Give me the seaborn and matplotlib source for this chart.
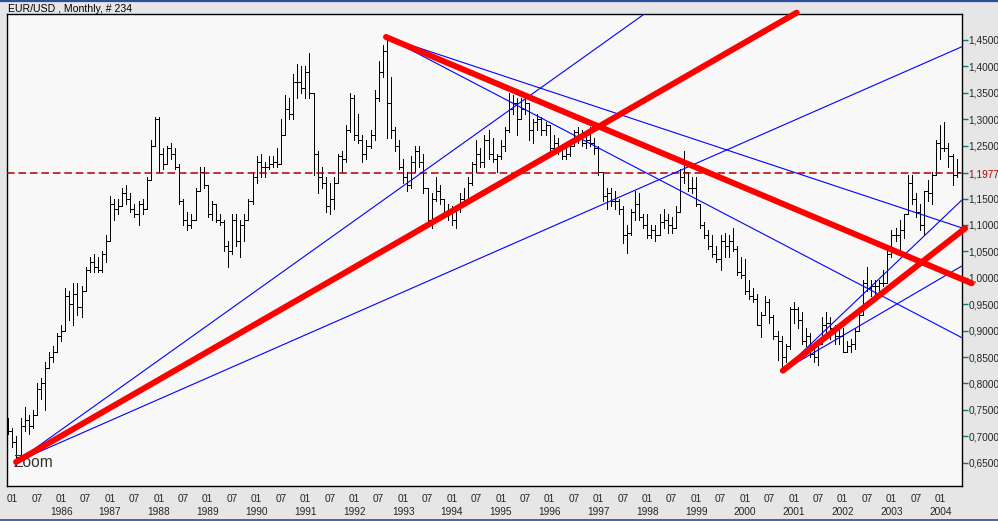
import numpy as np
import pandas as pd
import matplotlib
matplotlib.use("Agg")
import matplotlib.pyplot as plt
import seaborn as sns

# EUR/USD monthly bars, Dec 1984 .. May 2004 (234 bars)
first_month = "1984-12-01"

opens = [0.73, 0.71, 0.69, 0.66, 0.72, 0.73, 0.72, 0.74, 0.79, 0.80, 0.83, 0.85,
         0.86, 0.89, 0.90, 0.965, 0.95, 0.97, 0.945, 0.975, 1.015, 1.03, 1.02, 1.015,
         1.045, 1.07, 1.14, 1.13, 1.135, 1.16, 1.15, 1.13, 1.12, 1.14, 1.13, 1.185,
         1.25, 1.30, 1.235, 1.215, 1.245, 1.235, 1.21, 1.145, 1.11, 1.10, 1.11, 1.165,
         1.20, 1.175, 1.12, 1.14, 1.11, 1.105, 1.06, 1.05, 1.11, 1.07, 1.10, 1.11,
         1.145, 1.19, 1.22, 1.21, 1.21, 1.215, 1.22, 1.215, 1.27, 1.32, 1.31, 1.37,
         1.37, 1.36, 1.39, 1.35, 1.235, 1.19, 1.18, 1.135, 1.15, 1.18, 1.23, 1.225,
         1.28, 1.34, 1.27, 1.26, 1.235, 1.25, 1.27, 1.34, 1.39, 1.43, 1.33, 1.28,
         1.25, 1.21, 1.19, 1.175, 1.22, 1.24, 1.22, 1.17, 1.11, 1.15, 1.165, 1.15,
         1.125, 1.125, 1.11, 1.13, 1.15, 1.145, 1.18, 1.215, 1.235, 1.22, 1.26, 1.235,
         1.225, 1.23, 1.25, 1.28, 1.32, 1.33, 1.30, 1.32, 1.33, 1.28, 1.295, 1.30,
         1.28, 1.29, 1.245, 1.255, 1.245, 1.23, 1.235, 1.25, 1.275, 1.27, 1.255, 1.26,
         1.255, 1.245, 1.20, 1.155, 1.16, 1.145, 1.145, 1.13, 1.08, 1.085, 1.125, 1.14,
         1.115, 1.10, 1.08, 1.09, 1.08, 1.105, 1.11, 1.10, 1.095, 1.125, 1.19, 1.20,
         1.17, 1.17, 1.14, 1.10, 1.08, 1.06, 1.045, 1.035, 1.07, 1.06, 1.07, 1.055,
         1.01, 1.005, 0.975, 0.965, 0.96, 0.91, 0.93, 0.955, 0.925, 0.89, 0.88, 0.85,
         0.87, 0.94, 0.94, 0.92, 0.88, 0.89, 0.855, 0.85, 0.875, 0.91, 0.915, 0.905,
         0.89, 0.89, 0.86, 0.87, 0.875, 0.90, 0.93, 0.99, 0.98, 0.985, 0.985, 0.99,
         0.99, 1.045, 1.08, 1.08, 1.09, 1.12, 1.18, 1.15, 1.125, 1.10, 1.165, 1.16,
         1.195, 1.255, 1.245, 1.245, 1.23, 1.195]
highs = [0.735, 0.715, 0.70, 0.735, 0.755, 0.74, 0.75, 0.80, 0.81, 0.84, 0.86, 0.87,
         0.895, 0.91, 0.98, 0.975, 0.99, 0.99, 0.985, 1.02, 1.04, 1.045, 1.04, 1.05,
         1.08, 1.155, 1.15, 1.15, 1.17, 1.175, 1.16, 1.14, 1.145, 1.15, 1.19, 1.26,
         1.305, 1.305, 1.245, 1.25, 1.255, 1.245, 1.215, 1.15, 1.125, 1.12, 1.17, 1.21,
         1.21, 1.175, 1.145, 1.14, 1.12, 1.11, 1.07, 1.12, 1.12, 1.11, 1.12, 1.15,
         1.20, 1.23, 1.235, 1.22, 1.23, 1.23, 1.245, 1.30, 1.345, 1.34, 1.385, 1.405,
         1.40, 1.40, 1.425, 1.35, 1.24, 1.21, 1.19, 1.18, 1.19, 1.235, 1.24, 1.29,
         1.35, 1.345, 1.31, 1.27, 1.26, 1.28, 1.355, 1.41, 1.44, 1.456, 1.38, 1.285,
         1.26, 1.225, 1.20, 1.23, 1.25, 1.25, 1.235, 1.17, 1.16, 1.19, 1.175, 1.15,
         1.14, 1.135, 1.135, 1.16, 1.17, 1.19, 1.22, 1.26, 1.245, 1.27, 1.28, 1.265,
         1.235, 1.26, 1.285, 1.35, 1.345, 1.34, 1.34, 1.35, 1.33, 1.30, 1.31, 1.305,
         1.295, 1.29, 1.27, 1.265, 1.25, 1.245, 1.26, 1.28, 1.285, 1.28, 1.27, 1.285,
         1.265, 1.25, 1.20, 1.17, 1.17, 1.165, 1.15, 1.135, 1.10, 1.13, 1.165, 1.16,
         1.12, 1.12, 1.10, 1.10, 1.12, 1.13, 1.12, 1.115, 1.135, 1.205, 1.24, 1.20,
         1.19, 1.19, 1.14, 1.105, 1.09, 1.08, 1.06, 1.08, 1.085, 1.08, 1.095, 1.06,
         1.04, 1.035, 0.995, 0.98, 0.97, 0.935, 0.965, 0.96, 0.93, 0.90, 0.89, 0.875,
         0.945, 0.955, 0.945, 0.935, 0.905, 0.895, 0.875, 0.88, 0.925, 0.935, 0.925, 0.91,
         0.905, 0.905, 0.88, 0.885, 0.905, 0.935, 0.995, 1.02, 0.995, 0.995, 0.995, 1.015,
         1.05, 1.09, 1.095, 1.11, 1.12, 1.195, 1.195, 1.16, 1.14, 1.165, 1.185, 1.20,
         1.26, 1.29, 1.295, 1.255, 1.235, 1.225]
lows = [0.705, 0.68, 0.645, 0.655, 0.71, 0.705, 0.715, 0.74, 0.77, 0.75, 0.83, 0.84,
        0.86, 0.88, 0.90, 0.92, 0.91, 0.93, 0.925, 0.975, 1.01, 1.01, 1.01, 1.01,
        1.03, 1.07, 1.11, 1.12, 1.135, 1.14, 1.125, 1.115, 1.10, 1.12, 1.13, 1.185,
        1.25, 1.20, 1.205, 1.215, 1.225, 1.205, 1.14, 1.10, 1.09, 1.095, 1.11, 1.165,
        1.17, 1.115, 1.11, 1.105, 1.10, 1.05, 1.02, 1.045, 1.06, 1.04, 1.07, 1.11,
        1.14, 1.18, 1.19, 1.19, 1.205, 1.21, 1.21, 1.215, 1.27, 1.30, 1.30, 1.34,
        1.35, 1.34, 1.34, 1.195, 1.16, 1.17, 1.125, 1.12, 1.13, 1.18, 1.20, 1.22,
        1.275, 1.26, 1.255, 1.22, 1.225, 1.245, 1.26, 1.335, 1.38, 1.265, 1.265, 1.24,
        1.205, 1.18, 1.165, 1.17, 1.20, 1.21, 1.16, 1.10, 1.095, 1.145, 1.14, 1.115,
        1.11, 1.10, 1.095, 1.125, 1.135, 1.14, 1.175, 1.20, 1.21, 1.21, 1.225, 1.22,
        1.20, 1.225, 1.24, 1.275, 1.31, 1.27, 1.30, 1.31, 1.26, 1.255, 1.28, 1.27,
        1.27, 1.24, 1.24, 1.235, 1.225, 1.225, 1.23, 1.25, 1.255, 1.25, 1.245, 1.25,
        1.235, 1.195, 1.145, 1.13, 1.135, 1.13, 1.12, 1.065, 1.047, 1.08, 1.11, 1.11,
        1.095, 1.076, 1.075, 1.07, 1.08, 1.095, 1.085, 1.085, 1.095, 1.125, 1.18, 1.165,
        1.16, 1.135, 1.095, 1.075, 1.055, 1.04, 1.03, 1.015, 1.04, 1.04, 1.05, 1.005,
        1.00, 0.97, 0.96, 0.955, 0.91, 0.888, 0.93, 0.915, 0.885, 0.845, 0.825, 0.84,
        0.865, 0.915, 0.905, 0.875, 0.87, 0.85, 0.84, 0.835, 0.875, 0.895, 0.885, 0.875,
        0.875, 0.86, 0.86, 0.86, 0.865, 0.90, 0.93, 0.975, 0.965, 0.965, 0.97, 0.985,
        0.99, 1.04, 1.07, 1.05, 1.075, 1.12, 1.14, 1.115, 1.09, 1.08, 1.145, 1.14,
        1.195, 1.225, 1.24, 1.21, 1.176, 1.19]
closes = [0.71, 0.69, 0.66, 0.72, 0.73, 0.72, 0.74, 0.79, 0.80, 0.83, 0.85, 0.86,
          0.89, 0.90, 0.965, 0.95, 0.97, 0.945, 0.975, 1.015, 1.03, 1.02, 1.015, 1.045,
          1.07, 1.14, 1.13, 1.135, 1.16, 1.15, 1.13, 1.12, 1.14, 1.13, 1.185, 1.25,
          1.30, 1.235, 1.215, 1.245, 1.235, 1.21, 1.145, 1.11, 1.10, 1.11, 1.165, 1.20,
          1.175, 1.12, 1.14, 1.11, 1.105, 1.06, 1.05, 1.11, 1.07, 1.10, 1.11, 1.145,
          1.19, 1.22, 1.21, 1.21, 1.215, 1.22, 1.215, 1.27, 1.32, 1.31, 1.37, 1.37,
          1.36, 1.39, 1.35, 1.235, 1.19, 1.18, 1.135, 1.15, 1.18, 1.23, 1.225, 1.28,
          1.34, 1.27, 1.26, 1.235, 1.25, 1.27, 1.34, 1.39, 1.43, 1.33, 1.28, 1.25,
          1.21, 1.19, 1.175, 1.22, 1.24, 1.22, 1.17, 1.11, 1.15, 1.165, 1.15, 1.125,
          1.125, 1.11, 1.13, 1.15, 1.145, 1.18, 1.215, 1.235, 1.22, 1.26, 1.235, 1.225,
          1.23, 1.25, 1.28, 1.32, 1.33, 1.30, 1.32, 1.33, 1.28, 1.295, 1.30, 1.28,
          1.29, 1.245, 1.255, 1.245, 1.23, 1.235, 1.25, 1.275, 1.27, 1.255, 1.26, 1.255,
          1.245, 1.20, 1.155, 1.16, 1.145, 1.145, 1.13, 1.08, 1.085, 1.125, 1.14, 1.115,
          1.10, 1.08, 1.09, 1.08, 1.105, 1.11, 1.10, 1.095, 1.125, 1.19, 1.20, 1.17,
          1.17, 1.14, 1.10, 1.08, 1.06, 1.045, 1.035, 1.07, 1.06, 1.07, 1.055, 1.01,
          1.005, 0.975, 0.965, 0.96, 0.91, 0.93, 0.955, 0.925, 0.89, 0.88, 0.85, 0.87,
          0.94, 0.94, 0.92, 0.88, 0.89, 0.855, 0.85, 0.875, 0.91, 0.915, 0.905, 0.89,
          0.89, 0.86, 0.87, 0.875, 0.90, 0.93, 0.99, 0.98, 0.985, 0.985, 0.99, 0.99,
          1.045, 1.08, 1.08, 1.09, 1.12, 1.18, 1.15, 1.125, 1.10, 1.165, 1.16, 1.195,
          1.255, 1.245, 1.245, 1.23, 1.195, 1.20]

# trend lines, as (bar index, price) pairs
red_x = [[1.9, 193.7], [92.8, 236.7], [190.3, 235.1]]
red_y = [[0.6514, 1.5017], [1.4557, 0.9896], [0.8242, 1.0936]]
blue_x = [[1.9, 170.0], [1.9, 234.3], [92.8, 234.3], [92.8, 234.3],
          [190.3, 234.3], [190.3, 234.3]]
blue_y = [[0.6514, 1.5746], [0.6514, 1.4373], [1.4557, 1.0944], [1.4557, 0.8866],
          [0.8242, 1.1472], [0.8242, 1.0223]]
last_level = 1.1977

price_ticks = [0.65, 0.70, 0.75, 0.80, 0.85, 0.90, 0.95, 1.00, 1.05, 1.10,
               1.15, 1.25, 1.30, 1.35, 1.40, 1.45]

sns.set_style("white")
plt.rcParams['font.family'] = ['Liberation Sans', 'DejaVu Sans']

df = pd.DataFrame({'open': opens, 'high': highs, 'low': lows, 'close': closes})
df['date'] = pd.date_range(first_month, periods=len(df), freq='MS')
df['x'] = np.arange(len(df))

fig = plt.figure(figsize=(9.98, 5.21), dpi=100, facecolor='#e6e6e6')
ax = fig.add_axes([7 / 998, 1 - 486 / 521, 954.7 / 998, 472 / 521])
ax.set_facecolor('#f8f8f8')

# OHLC bars
bar_kw = dict(color='black', lw=0.72, antialiased=False, zorder=2)
ax.vlines(df['x'], df['low'], df['high'], **bar_kw)
ax.hlines(df['open'], df['x'] - 0.5, df['x'], **bar_kw)
ax.hlines(df['close'], df['x'], df['x'] + 0.5, **bar_kw)

ax.axhline(last_level, color='#b00000', lw=1.1, ls=(0, (5, 2.5)), zorder=3)

for xs, ys in zip(blue_x, blue_y):
    sns.lineplot(x=xs, y=ys, ax=ax, color='#0000ff', lw=0.8, sort=False,
                 estimator=None, zorder=4)
for xs, ys in zip(red_x, red_y):
    sns.lineplot(x=xs, y=ys, ax=ax, color='#ff0000', lw=4.3, sort=False,
                 estimator=None, zorder=5, clip_on=False, solid_capstyle='round')

ax.text(0.0063, 0.040, 'Zoom', transform=ax.transAxes, fontsize=11.2,
        color='#333333', va='baseline', ha='left', zorder=3)

ax.set_xlim(-0.32, 234.25)
ax.set_ylim(0.6059, 1.4992)

# x ticks on January and July
ticks = df[df['date'].dt.month.isin([1, 7])]
xlabels = []
for d in ticks['date']:
    lab = d.strftime('%m')
    if d.month == 1 and d.year >= 1986:
        lab += '\n' + str(d.year)
    xlabels.append(lab)
ax.set_xticks(ticks['x'])
ax.set_xticklabels(xlabels, fontsize=7.3, linespacing=1.35)

yt = price_ticks + [last_level]
ax.yaxis.tick_right()
ax.set_yticks(yt)
ax.set_yticklabels([f"{v:.4f}".replace('.', ',') for v in yt], fontsize=7.3)
ax.get_yticklabels()[-1].set_color('#b00000')

ax.tick_params(axis='both', direction='out', color='#008080', length=4, width=1)
ax.tick_params(axis='y', pad=1)
ax.tick_params(axis='x', pad=2)
ax.set_xlabel('')
ax.set_ylabel('')
for s in ax.spines.values():
    s.set_color('black')
    s.set_linewidth(1)
    s.set_visible(True)

fig.text(8 / 998, 1 - 3.5 / 521, 'EUR/USD , Monthly, # 234', fontsize=7.6,
         va='top', ha='left', color='black')

fig.add_artist(plt.Line2D([0, 1], [1 - 1 / 521, 1 - 1 / 521], transform=fig.transFigure,
                          color='#2d4e9a', lw=1.6))
fig.add_artist(plt.Line2D([0, 1], [1 / 521, 1 / 521], transform=fig.transFigure,
                          color='#2d4e9a', lw=1.2))

fig.savefig('out.png', dpi=100, facecolor=fig.get_facecolor())
